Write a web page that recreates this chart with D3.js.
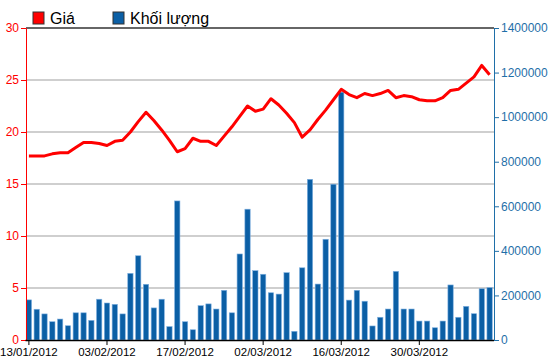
<!DOCTYPE html>
<html>
<head>
<meta charset="utf-8">
<script src="https://cdn.jsdelivr.net/npm/d3@7"></script>
<style>
  body { margin: 0; background: #fff; }
  svg { display: block; font-family: "Liberation Sans", Arial, sans-serif; }
</style>
</head>
<body>
<script>
var dates = [
  "13/01/2012", "16/01/2012", "17/01/2012", "18/01/2012", "19/01/2012", "20/01/2012",
  "30/01/2012", "31/01/2012", "01/02/2012", "02/02/2012", "03/02/2012",
  "06/02/2012", "07/02/2012", "08/02/2012", "09/02/2012", "10/02/2012",
  "13/02/2012", "14/02/2012", "15/02/2012", "16/02/2012", "17/02/2012",
  "20/02/2012", "21/02/2012", "22/02/2012", "23/02/2012", "24/02/2012",
  "27/02/2012", "28/02/2012", "29/02/2012", "01/03/2012", "02/03/2012",
  "05/03/2012", "06/03/2012", "07/03/2012", "08/03/2012", "09/03/2012",
  "12/03/2012", "13/03/2012", "14/03/2012", "15/03/2012", "16/03/2012",
  "19/03/2012", "20/03/2012", "21/03/2012", "22/03/2012", "23/03/2012",
  "26/03/2012", "27/03/2012", "28/03/2012", "29/03/2012", "30/03/2012",
  "03/04/2012", "04/04/2012", "05/04/2012", "06/04/2012", "09/04/2012",
  "10/04/2012", "11/04/2012", "12/04/2012", "13/04/2012"
]

var price = [
  17.7, 17.7, 17.7, 17.9, 18.0, 18.0, 18.5, 19.0, 19.0, 18.9,
  18.7, 19.1, 19.2, 20.0, 21.0, 21.9, 21.1, 20.2, 19.2, 18.1,
  18.4, 19.4, 19.1, 19.1, 18.7, 19.6, 20.5, 21.5, 22.5, 22.0,
  22.2, 23.2, 22.6, 21.8, 20.9, 19.5, 20.2, 21.2, 22.1, 23.1,
  24.1, 23.6, 23.3, 23.7, 23.5, 23.7, 24.0, 23.3, 23.5, 23.4,
  23.1, 23.0, 23.0, 23.3, 24.0, 24.1, 24.7, 25.3, 26.4, 25.5
]

var volume = [
  180000, 138000, 117000, 82000, 94000, 64000, 122000, 122000, 88000, 183000,
  166000, 160000, 117000, 299000, 378000, 250000, 144000, 183000, 60000, 624000,
  82000, 46000, 154000, 162000, 139000, 223000, 122000, 386000, 587000, 311000,
  295000, 212000, 206000, 302000, 39000, 324000, 721000, 251000, 452000, 699000,
  1112000, 179000, 223000, 174000, 63000, 102000, 139000, 308000, 139000, 139000,
  85000, 85000, 55000, 85000, 247000, 102000, 151000, 118000, 230000, 235000
]

var priceTicks = [0, 5, 10, 15, 20, 25, 30]
var volumeTicks = [0, 200000, 400000, 600000, 800000, 1000000, 1200000, 1400000]
var legendItems = ["Giá", "Khối lượng"]

var width = 550
var height = 364
var plotLeft = 26, plotRight = 494, plotTop = 28, plotBottom = 340

var priceColor = "#ff0000"
var volumeColor = "#0b5fa5"
var volumeAxisColor = "#1f6fa8"

var svg = d3.select("body")
    .append("svg")
    .attr("width", width)
    .attr("height", height)

var x = d3.scaleBand()
    .domain(dates)
    .range([plotLeft - 1, plotRight - 0.5])
    .paddingInner(0.32)
    .paddingOuter(0.16)

var yPrice = d3.scaleLinear().domain([0, 30]).range([plotBottom, plotTop])
var yVolume = d3.scaleLinear().domain([0, 1400000]).range([plotBottom, plotTop])

// grid lines
svg.append("g")
    .selectAll("line")
    .data(priceTicks.filter(function (d) { return d > 0 && d < 30 }))
    .enter()
    .append("line")
    .attr("x1", plotLeft)
    .attr("x2", plotRight)
    .attr("y1", function (d) { return yPrice(d) })
    .attr("y2", function (d) { return yPrice(d) })
    .attr("stroke", "#cfcfcf")
    .attr("stroke-width", 2)

svg.append("line")
    .attr("x1", plotLeft)
    .attr("x2", plotRight)
    .attr("y1", yPrice(30))
    .attr("y2", yPrice(30))
    .attr("stroke", "#333")
    .attr("stroke-width", 1.5)

// volume bars
svg.append("g")
    .selectAll("rect")
    .data(volume)
    .enter()
    .append("rect")
    .attr("x", function (d, i) { return x(dates[i]) })
    .attr("width", x.bandwidth())
    .attr("y", function (d) { return yVolume(d) })
    .attr("height", function (d) { return plotBottom - yVolume(d) })
    .attr("fill", volumeColor)
    .attr("stroke", "#7fb0e0")
    .attr("stroke-width", 0.6)

// price line
var line = d3.line()
    .x(function (d, i) { return x(dates[i]) + x.bandwidth() / 2 })
    .y(function (d) { return yPrice(d) })

svg.append("path")
    .datum(price)
    .attr("d", line)
    .attr("fill", "none")
    .attr("stroke", priceColor)
    .attr("stroke-width", 3)
    .attr("stroke-linejoin", "round")

// axes
var leftAxis = svg.append("g")
    .attr("transform", "translate(" + plotLeft + ",0)")
    .call(d3.axisLeft(yPrice).tickValues(priceTicks).tickSize(5).tickSizeOuter(0).tickPadding(2))
leftAxis.selectAll("path, line").attr("stroke", priceColor)
leftAxis.selectAll("text").attr("fill", priceColor).style("font-size", "12px")

var rightAxis = svg.append("g")
    .attr("transform", "translate(" + plotRight + ",0)")
    .call(d3.axisRight(yVolume).tickValues(volumeTicks).tickSize(5).tickSizeOuter(0).tickPadding(2).tickFormat(d3.format("d")))
rightAxis.selectAll("path, line").attr("stroke", volumeAxisColor)
rightAxis.selectAll("text").attr("fill", volumeAxisColor).style("font-size", "12px")

var bottomAxis = svg.append("g")
    .attr("transform", "translate(0," + plotBottom + ")")
    .call(d3.axisBottom(x)
        .tickValues(dates.filter(function (d, i) { return i % 10 === 0 }))
        .tickSize(5)
        .tickSizeOuter(0)
        .tickPadding(3))
bottomAxis.select(".domain").attr("stroke", "#000").attr("stroke-width", 1.5)
bottomAxis.selectAll("line").attr("stroke", "#000")
bottomAxis.selectAll("text").attr("fill", "#000").style("font-size", "11.5px")

// legend
var legend = svg.append("g")
    .selectAll("g")
    .data(legendItems)
    .enter()
    .append("g")
    .attr("transform", function (d, i) { return "translate(" + (33 + i * 80) + ",12)" })

legend.append("rect")
    .attr("width", 11)
    .attr("height", 12)
    .attr("fill", function (d, i) { return i === 0 ? priceColor : volumeColor })
    .attr("stroke", "#333")
    .attr("stroke-width", 1)

legend.append("text")
    .attr("x", 17)
    .attr("y", 12)
    .style("font-size", "16px")
    .attr("fill", "#000")
    .text(function (d) { return d })
</script>
</body>
</html>
